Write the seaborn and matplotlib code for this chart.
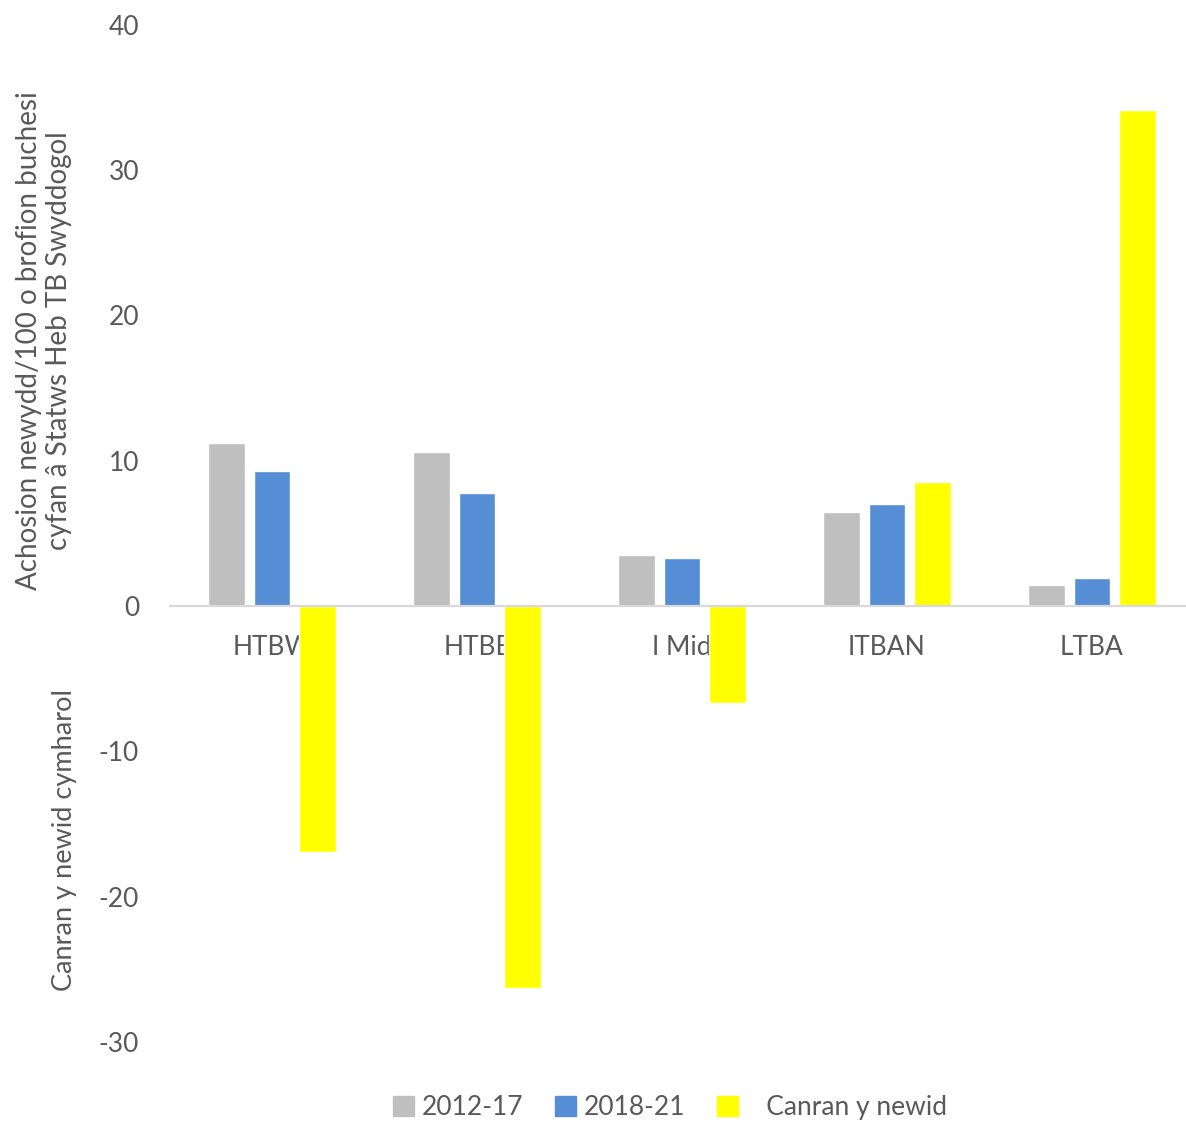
import pandas as pd
import matplotlib
matplotlib.use('Agg')
import matplotlib.pyplot as plt
import matplotlib.patches as mpatches
import seaborn as sns

# Data
AREAS = ['HTBW', 'HTBE', 'I Mid', 'ITBAN', 'LTBA']
RATE_2012_17 = [11.2, 10.6, 3.5, 6.5, 1.45]
RATE_2018_21 = [9.3, 7.8, 3.3, 7.0, 1.9]
PCT_CHANGE = [-16.9, -26.3, -6.7, 8.5, 34.1]
SERIES = ['2012-17', '2018-21', 'Canran y newid']
Y_TICKS = [-30, -20, -10, 0, 10, 20, 30, 40]

COLORS = {'2012-17': '#BFBFBF', '2018-21': '#558ED5', 'Canran y newid': '#FFFF00'}
TEXT_GREY = '#595959'

sns.set_theme(style='white')
plt.rcParams['font.family'] = ['Lato', 'DejaVu Sans']
plt.rcParams['axes.unicode_minus'] = False  # plain hyphen like the original

df = pd.DataFrame({
    'Area': AREAS * 3,
    'Series': [SERIES[0]] * 5 + [SERIES[1]] * 5 + [SERIES[2]] * 5,
    'Value': RATE_2012_17 + RATE_2018_21 + PCT_CHANGE,
})

fig = plt.figure(figsize=(11.86, 11.24), dpi=100)
ax = fig.add_axes([0.143, 0.073, 0.864, 0.905])

sns.barplot(
    data=df, x='Area', y='Value', hue='Series', order=AREAS,
    hue_order=SERIES, palette=COLORS, width=0.666, gap=0.2,
    saturation=1, legend=False, ax=ax,
)

ax.set_ylim(-30, 40)
ax.set_xlim(-0.5, 4.5)
ax.set_yticks(Y_TICKS)
ax.set_xlabel('')
ax.set_ylabel('')
ax.set_axisbelow(True)

for side in ['top', 'right', 'left']:
    ax.spines[side].set_visible(False)
ax.spines['bottom'].set_position(('data', 0))
ax.spines['bottom'].set_color('#D9D9D9')
ax.spines['bottom'].set_linewidth(1.6)

ax.tick_params(axis='both', length=0, labelsize=19, labelcolor=TEXT_GREY)
ax.tick_params(axis='x', pad=21)
ax.tick_params(axis='y', pad=22)

fig.text(0.037, 0.697,
         'Achosion newydd/100 o brofion buchesi\ncyfan â Statws Heb TB Swyddogol',
         rotation=90, ha='center', va='center', fontsize=20,
         color=TEXT_GREY, linespacing=1.2)
fig.text(0.054, 0.253, 'Canran y newid cymharol', rotation=90,
         ha='center', va='center', fontsize=19.5, color=TEXT_GREY)

handles = [mpatches.Patch(color=COLORS[s]) for s in SERIES]
labels = ['2012-17', '2018-21', '   Canran y newid']
fig.legend(handles, labels, loc='center', bbox_to_anchor=(0.565, 0.0145),
           ncol=3, frameon=False, fontsize=19, labelcolor=TEXT_GREY,
           handlelength=0.8, handleheight=0.8, handletextpad=0.3,
           columnspacing=1.2)

fig.savefig('out.png', dpi=100)
